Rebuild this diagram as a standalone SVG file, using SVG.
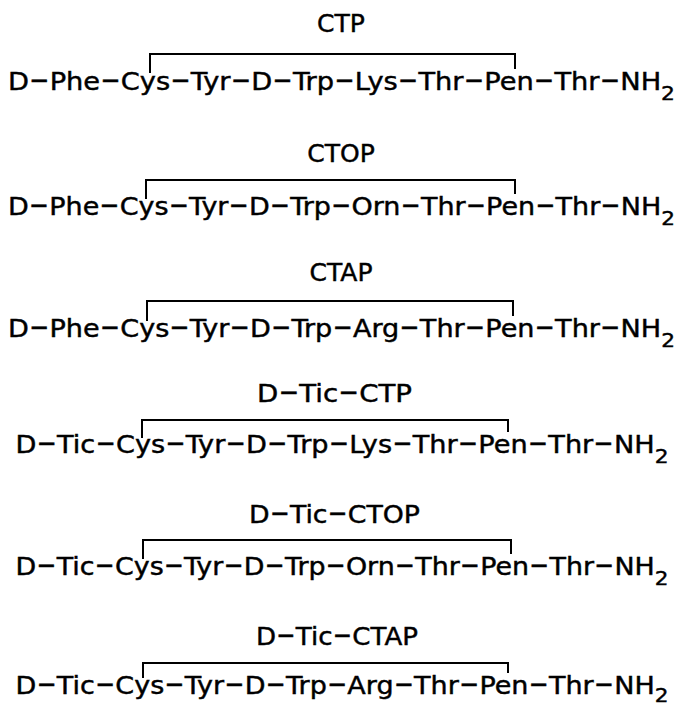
<svg xmlns="http://www.w3.org/2000/svg" width="678" height="707" viewBox="0 0 678 707">
  <style>
    text { font-family: "DejaVu Sans", "Liberation Sans", sans-serif; font-size: 25px; fill: #000; stroke: #000; stroke-width: 0.45; }
    .d { font-size: 34px; }
    .sub { font-size: 20px; }
    .bridge { fill: none; stroke: #000; stroke-width: 2; }
  </style>
  <rect width="678" height="707" fill="#fff"/>

  <!-- CTP -->
  <g id="ctp">
    <text x="341" y="32" text-anchor="middle">CTP</text>
    <text x="8" y="90" textLength="667" lengthAdjust="spacingAndGlyphs">D<tspan class="d" dx="1">–</tspan><tspan dx="1">Phe</tspan><tspan class="d" dx="1">–</tspan><tspan dx="1">Cys</tspan><tspan class="d" dx="1">–</tspan><tspan dx="1">Tyr</tspan><tspan class="d" dx="1">–</tspan><tspan dx="1">D</tspan><tspan class="d" dx="1">–</tspan><tspan dx="1">Trp</tspan><tspan class="d" dx="1">–</tspan><tspan dx="1">Lys</tspan><tspan class="d" dx="1">–</tspan><tspan dx="1">Thr</tspan><tspan class="d" dx="1">–</tspan><tspan dx="1">Pen</tspan><tspan class="d" dx="1">–</tspan><tspan dx="1">Thr</tspan><tspan class="d" dx="1">–</tspan><tspan dx="1">NH</tspan><tspan class="sub" dy="10">2</tspan></text>
  </g>

  <!-- CTOP -->
  <g id="ctop">
    <text x="341" y="162" text-anchor="middle">CTOP</text>
    <text x="8" y="215" textLength="667" lengthAdjust="spacingAndGlyphs">D<tspan class="d" dx="1">–</tspan><tspan dx="1">Phe</tspan><tspan class="d" dx="1">–</tspan><tspan dx="1">Cys</tspan><tspan class="d" dx="1">–</tspan><tspan dx="1">Tyr</tspan><tspan class="d" dx="1">–</tspan><tspan dx="1">D</tspan><tspan class="d" dx="1">–</tspan><tspan dx="1">Trp</tspan><tspan class="d" dx="1">–</tspan><tspan dx="1">Orn</tspan><tspan class="d" dx="1">–</tspan><tspan dx="1">Thr</tspan><tspan class="d" dx="1">–</tspan><tspan dx="1">Pen</tspan><tspan class="d" dx="1">–</tspan><tspan dx="1">Thr</tspan><tspan class="d" dx="1">–</tspan><tspan dx="1">NH</tspan><tspan class="sub" dy="10">2</tspan></text>
  </g>

  <!-- CTAP -->
  <g id="ctap">
    <text x="341" y="281" text-anchor="middle">CTAP</text>
    <text x="8" y="337" textLength="667" lengthAdjust="spacingAndGlyphs">D<tspan class="d" dx="1">–</tspan><tspan dx="1">Phe</tspan><tspan class="d" dx="1">–</tspan><tspan dx="1">Cys</tspan><tspan class="d" dx="1">–</tspan><tspan dx="1">Tyr</tspan><tspan class="d" dx="1">–</tspan><tspan dx="1">D</tspan><tspan class="d" dx="1">–</tspan><tspan dx="1">Trp</tspan><tspan class="d" dx="1">–</tspan><tspan dx="1">Arg</tspan><tspan class="d" dx="1">–</tspan><tspan dx="1">Thr</tspan><tspan class="d" dx="1">–</tspan><tspan dx="1">Pen</tspan><tspan class="d" dx="1">–</tspan><tspan dx="1">Thr</tspan><tspan class="d" dx="1">–</tspan><tspan dx="1">NH</tspan><tspan class="sub" dy="10">2</tspan></text>
  </g>

  <!-- D-Tic-CTP -->
  <g id="dtic-ctp">
    <text x="257" y="402" textLength="155" lengthAdjust="spacingAndGlyphs">D<tspan class="d" dx="1">–</tspan><tspan dx="1">Tic</tspan><tspan class="d" dx="1">–</tspan><tspan dx="1">CTP</tspan></text>
    <text x="15.5" y="453" textLength="653" lengthAdjust="spacingAndGlyphs">D<tspan class="d" dx="1">–</tspan><tspan dx="1">Tic</tspan><tspan class="d" dx="1">–</tspan><tspan dx="1">Cys</tspan><tspan class="d" dx="1">–</tspan><tspan dx="1">Tyr</tspan><tspan class="d" dx="1">–</tspan><tspan dx="1">D</tspan><tspan class="d" dx="1">–</tspan><tspan dx="1">Trp</tspan><tspan class="d" dx="1">–</tspan><tspan dx="1">Lys</tspan><tspan class="d" dx="1">–</tspan><tspan dx="1">Thr</tspan><tspan class="d" dx="1">–</tspan><tspan dx="1">Pen</tspan><tspan class="d" dx="1">–</tspan><tspan dx="1">Thr</tspan><tspan class="d" dx="1">–</tspan><tspan dx="1">NH</tspan><tspan class="sub" dy="10">2</tspan></text>
  </g>

  <!-- D-Tic-CTOP -->
  <g id="dtic-ctop">
    <text x="249" y="523" textLength="171" lengthAdjust="spacingAndGlyphs">D<tspan class="d" dx="1">–</tspan><tspan dx="1">Tic</tspan><tspan class="d" dx="1">–</tspan><tspan dx="1">CTOP</tspan></text>
    <text x="15.5" y="575" textLength="653" lengthAdjust="spacingAndGlyphs">D<tspan class="d" dx="1">–</tspan><tspan dx="1">Tic</tspan><tspan class="d" dx="1">–</tspan><tspan dx="1">Cys</tspan><tspan class="d" dx="1">–</tspan><tspan dx="1">Tyr</tspan><tspan class="d" dx="1">–</tspan><tspan dx="1">D</tspan><tspan class="d" dx="1">–</tspan><tspan dx="1">Trp</tspan><tspan class="d" dx="1">–</tspan><tspan dx="1">Orn</tspan><tspan class="d" dx="1">–</tspan><tspan dx="1">Thr</tspan><tspan class="d" dx="1">–</tspan><tspan dx="1">Pen</tspan><tspan class="d" dx="1">–</tspan><tspan dx="1">Thr</tspan><tspan class="d" dx="1">–</tspan><tspan dx="1">NH</tspan><tspan class="sub" dy="10">2</tspan></text>
  </g>

  <!-- D-Tic-CTAP -->
  <g id="dtic-ctap">
    <text x="256" y="645" textLength="162" lengthAdjust="spacingAndGlyphs">D<tspan class="d" dx="1">–</tspan><tspan dx="1">Tic</tspan><tspan class="d" dx="1">–</tspan><tspan dx="1">CTAP</tspan></text>
    <text x="15.5" y="694" textLength="653" lengthAdjust="spacingAndGlyphs">D<tspan class="d" dx="1">–</tspan><tspan dx="1">Tic</tspan><tspan class="d" dx="1">–</tspan><tspan dx="1">Cys</tspan><tspan class="d" dx="1">–</tspan><tspan dx="1">Tyr</tspan><tspan class="d" dx="1">–</tspan><tspan dx="1">D</tspan><tspan class="d" dx="1">–</tspan><tspan dx="1">Trp</tspan><tspan class="d" dx="1">–</tspan><tspan dx="1">Arg</tspan><tspan class="d" dx="1">–</tspan><tspan dx="1">Thr</tspan><tspan class="d" dx="1">–</tspan><tspan dx="1">Pen</tspan><tspan class="d" dx="1">–</tspan><tspan dx="1">Thr</tspan><tspan class="d" dx="1">–</tspan><tspan dx="1">NH</tspan><tspan class="sub" dy="8">2</tspan></text>
  </g>

  <!-- Cys–Pen disulfide bridges -->
  <g id="disulfide-bridges">
    <polyline class="bridge" points="150,73 150,54 515,54 515,69"/>
    <polyline class="bridge" points="146,199 146,180 515,180 515,194"/>
    <polyline class="bridge" points="147,321 147,301 513,301 513,316"/>
    <polyline class="bridge" points="142,438 142,420 508,420 508,432"/>
    <polyline class="bridge" points="143,559 143,540 511,540 511,554"/>
    <polyline class="bridge" points="143,678 143,663 508,663 508,673"/>
  </g>
</svg>
